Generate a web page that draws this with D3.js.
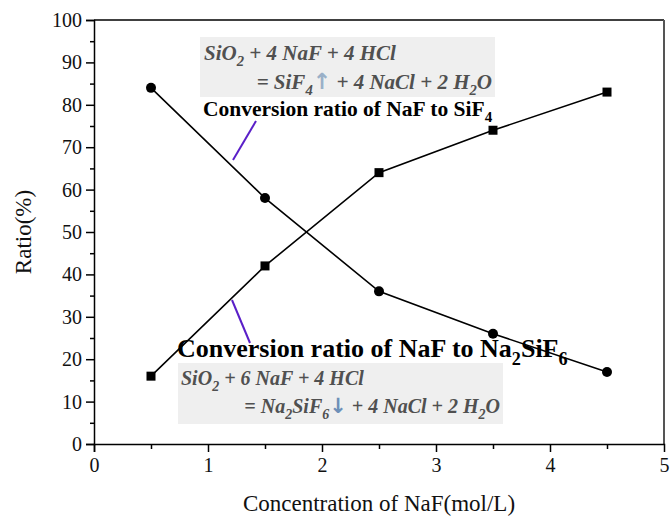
<!DOCTYPE html>
<html>
<head>
<meta charset="utf-8">
<script src="https://cdn.jsdelivr.net/npm/d3@7"></script>
<style>
  body { margin: 0; background: #fff; }
  svg { display: block; }
  svg text { font-family: "Liberation Serif", "Times New Roman", serif; }
</style>
</head>
<body>
<div id="chart"></div>
<script>
// Data

const conc = [0.5, 1.5, 2.5, 3.5, 4.5];                  // NaF concentration (mol/L)
const ratioSiF4 = [84, 58, 36, 26, 17];                  // conversion of NaF to SiF4 (%), circles
const ratioNa2SiF6 = [16, 42, 64, 74, 83];               // conversion of NaF to Na2SiF6 (%), squares
const xTicks = [0, 1, 2, 3, 4, 5];
const yTicks = [0, 10, 20, 30, 40, 50, 60, 70, 80, 90, 100];

// Dimensions

const width = 670, height = 519;
const margin = {top: 20, right: 6, bottom: 75, left: 94};
const serif = '"Liberation Serif", "Times New Roman", serif';

const svg = d3.select('#chart').append('svg')
    .attr('width', width)
    .attr('height', height);

const x = d3.scaleLinear().domain([0, 5]).range([margin.left, width - margin.right]);
const y = d3.scaleLinear().domain([0, 100]).range([height - margin.bottom, margin.top]);

// Frame (top and right lines)

svg.append('line')
    .attr('x1', x(0)).attr('x2', x(5)).attr('y1', y(100)).attr('y2', y(100))
    .attr('stroke', '#000').attr('stroke-width', 1.5);
svg.append('line')
    .attr('x1', x(5)).attr('x2', x(5)).attr('y1', y(100)).attr('y2', y(0))
    .attr('stroke', '#555').attr('stroke-width', 2);

// Axes

const xAxis = svg.append('g')
    .attr('transform', 'translate(0,' + y(0) + ')')
    .call(d3.axisBottom(x).tickValues(xTicks).tickFormat(d3.format('d')).tickSize(8).tickPadding(6));
xAxis.selectAll('.tick').filter(d => d === 5).select('line').remove();

svg.append('g')
    .attr('transform', 'translate(0,' + y(0) + ')')
    .call(d3.axisBottom(x).tickValues(d3.range(0.5, 5, 1)).tickFormat('').tickSize(5))
    .select('.domain').remove();

svg.append('g')
    .attr('transform', 'translate(' + x(0) + ',0)')
    .call(d3.axisLeft(y).tickValues(yTicks).tickSize(8).tickPadding(4));

svg.append('g')
    .attr('transform', 'translate(' + x(0) + ',0)')
    .call(d3.axisLeft(y).tickValues(d3.range(5, 100, 10)).tickFormat('').tickSize(4))
    .select('.domain').remove();

svg.selectAll('g').attr('font-family', serif);
svg.selectAll('.domain').attr('stroke-width', 1.5);
svg.selectAll('.tick line').attr('stroke-width', 1.5);
svg.selectAll('.tick text')
    .style('font-family', serif)
    .style('font-size', '20px')
    .attr('fill', '#111');

// Axis titles

svg.append('text')
    .attr('x', (x(0) + x(5)) / 2)
    .attr('y', 511)
    .attr('text-anchor', 'middle')
    .style('font-family', serif)
    .style('font-size', '23px')
    .attr('fill', '#111')
    .text('Concentration of NaF(mol/L)');

svg.append('text')
    .attr('transform', 'translate(31,' + y(50) + ') rotate(-90)')
    .attr('text-anchor', 'middle')
    .style('font-family', serif)
    .style('font-size', '23px')
    .attr('fill', '#111')
    .text('Ratio(%)');

// Annotation boxes (drawn before the lines)

svg.append('rect').attr('x', 200).attr('y', 37).attr('width', 295).attr('height', 60).attr('fill', '#efefef');
svg.append('rect').attr('x', 178).attr('y', 363).attr('width', 325).attr('height', 61).attr('fill', '#efefef');

// Series lines and markers

const line = d3.line().x(d => x(d[0])).y(d => y(d[1]));
const circles = conc.map((c, i) => [c, ratioSiF4[i]]);
const squares = conc.map((c, i) => [c, ratioNa2SiF6[i]]);

svg.append('path').datum(circles).attr('d', line)
    .attr('fill', 'none').attr('stroke', '#000').attr('stroke-width', 1.6);
svg.append('path').datum(squares).attr('d', line)
    .attr('fill', 'none').attr('stroke', '#000').attr('stroke-width', 1.6);

svg.selectAll('.dot').data(circles).enter().append('circle')
    .attr('cx', d => x(d[0])).attr('cy', d => y(d[1])).attr('r', 5).attr('fill', '#000');
svg.selectAll('.sq').data(squares).enter().append('rect')
    .attr('x', d => x(d[0]) - 4.5).attr('y', d => y(d[1]) - 4.5)
    .attr('width', 9).attr('height', 9).attr('fill', '#000');

// Rich text helper: segments of [text, kind]

const rich = (px, py, size, segs, opts) => {
    const t = svg.append('text')
        .attr('x', px).attr('y', py)
        .attr('text-anchor', opts.anchor || 'start')
        .style('font-family', serif)
        .style('font-size', size + 'px')
        .style('font-style', opts.italic ? 'italic' : 'normal')
        .style('font-weight', opts.bold ? 'bold' : 'normal')
        .attr('fill', opts.color);
    let shifted = false;
    segs.forEach(([s, kind]) => {
        const ts = t.append('tspan').text(s);
        if (kind === 'sub') {
            ts.attr('dy', size * 0.3).style('font-size', (size * 0.7) + 'px');
            shifted = true;
        } else {
            if (shifted) { ts.attr('dy', -size * 0.3); shifted = false; }
            if (kind === 'arrow') {
                ts.attr('fill', opts.arrow)
                    .style('font-family', '"DejaVu Sans", sans-serif')
                    .style('font-style', 'normal')
                    .style('font-weight', 'bold')
                    .style('font-size', (size * 1.05) + 'px');
            }
        }
    });
    return t;
};

const eqColor = '#505050';

rich(204, 60, 21, [['SiO'], ['2', 'sub'], [' + 4 NaF + 4 HCl']], {italic: true, bold: true, color: eqColor});
rich(492, 89, 21, [['= SiF'], ['4', 'sub'], ['\u2191', 'arrow'], [' + 4 NaCl + 2 H'], ['2', 'sub'], ['O']],
    {italic: true, bold: true, color: eqColor, anchor: 'end', arrow: '#9ab0c8'});
rich(203, 116, 21.5, [['Conversion ratio of NaF to SiF'], ['4', 'sub']], {bold: true, color: '#000'});

rich(177, 357, 26, [['Conversion ratio of NaF to Na'], ['2', 'sub'], ['SiF'], ['6', 'sub']], {bold: true, color: '#000'});
rich(181, 385, 20, [['SiO'], ['2', 'sub'], [' + 6 NaF + 4 HCl']], {italic: true, bold: true, color: eqColor});
rich(500, 413, 20, [['= Na'], ['2', 'sub'], ['SiF'], ['6', 'sub'], ['\u2193', 'arrow'], [' + 4 NaCl + 2 H'], ['2', 'sub'], ['O']],
    {italic: true, bold: true, color: eqColor, anchor: 'end', arrow: '#6d90b8'});

// Pointer lines

svg.append('line').attr('x1', 256).attr('y1', 121).attr('x2', 233).attr('y2', 160)
    .attr('stroke', '#5a1fc8').attr('stroke-width', 2);
svg.append('line').attr('x1', 232).attr('y1', 300).attr('x2', 250).attr('y2', 343)
    .attr('stroke', '#5a1fc8').attr('stroke-width', 2);
</script>
</body>
</html>
